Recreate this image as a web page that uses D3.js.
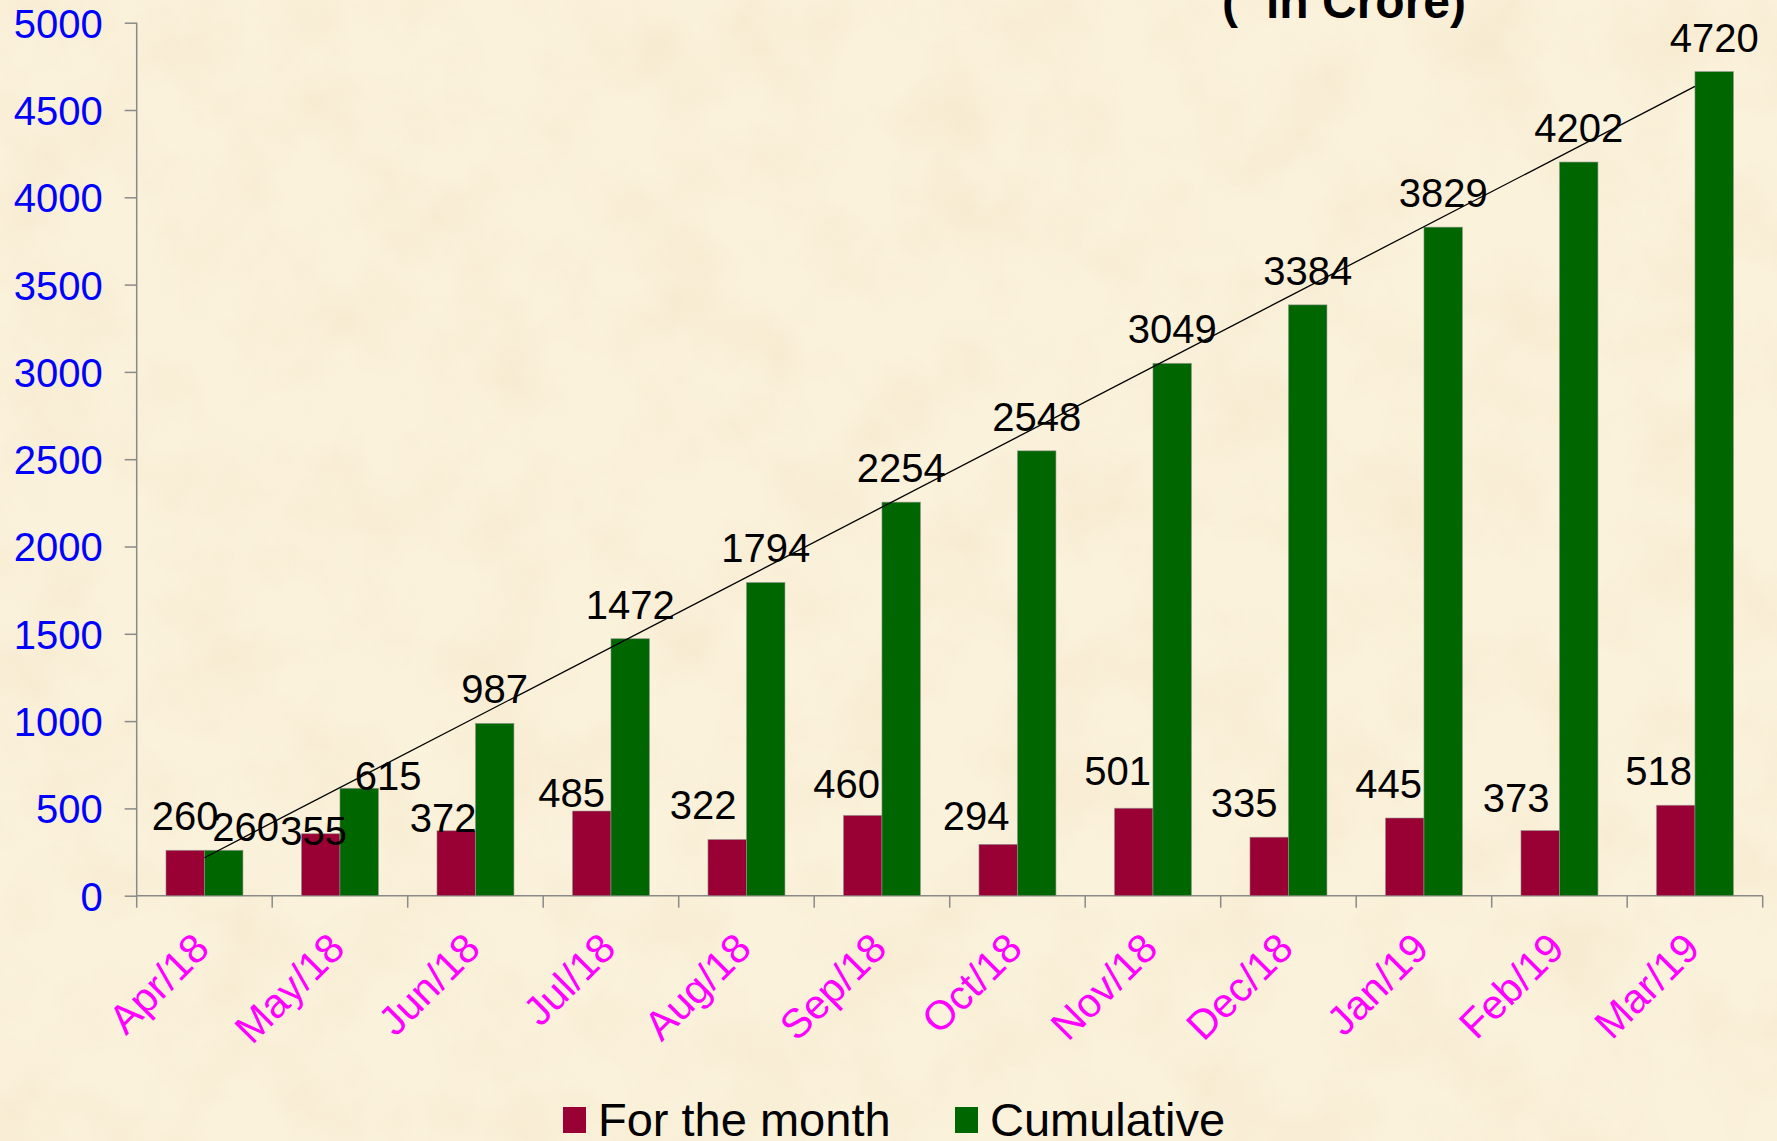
<!DOCTYPE html>
<html lang="en">
<head>
  <meta charset="UTF-8">
  <title>Monthly and cumulative (in Crore)</title>
  <script src="https://d3js.org/d3.v7.min.js"></script>
  <style>
    body { margin: 0; background: #FAF0D8; }
    svg { display: block; font-family: "Liberation Sans", Arial, sans-serif; }
  </style>
</head>
<body>
<div id="chart"></div>
<script>
  // Data
  const months = ["Apr/18", "May/18", "Jun/18", "Jul/18", "Aug/18", "Sep/18",
                  "Oct/18", "Nov/18", "Dec/18", "Jan/19", "Feb/19", "Mar/19"];
  const forTheMonth = [260, 355, 372, 485, 322, 460, 294, 501, 335, 445, 373, 518];
  const cumulative = [260, 615, 987, 1472, 1794, 2254, 2548, 3049, 3384, 3829, 4202, 4720];
  const seriesNames = ["For the month", "Cumulative"];
  const yTicks = [0, 500, 1000, 1500, 2000, 2500, 3000, 3500, 4000, 4500, 5000];

  // hand nudges of the value labels (dx, dy), as placed in the original
  const monthLabelNudge = [[0, 0], [-7, 31], [-13, 21], [-20, 16], [-24, 0], [-16, 3],
                           [-22, 6], [-16, -3], [-25, 0], [-16, 0], [-24, 1], [-17, 0]];
  const cumLabelNudge = [[22, 11], [29, 22], [0, 0], [0, 0], [0, 0], [0, 0],
                         [0, 0], [0, 0], [0, 0], [0, 0], [0, 0], [0, 0]];

  // Dimensions
  const width = 1777, height = 1141;
  const plot = { left: 136.7, right: 1762.7, top: 22.7, bottom: 895.7 };
  const colors = { "For the month": "#990033", "Cumulative": "#006600" };
  const axisColor = "#8a8a8a";

  const svg = d3.select("#chart").append("svg")
    .attr("width", width)
    .attr("height", height);

  // paper-like background
  const defs = svg.append("defs");
  const f = defs.append("filter").attr("id", "paper")
    .attr("x", 0).attr("y", 0).attr("width", "100%").attr("height", "100%");
  f.append("feTurbulence").attr("type", "fractalNoise")
    .attr("baseFrequency", "0.011").attr("numOctaves", 4).attr("seed", 7);
  f.append("feColorMatrix").attr("type", "matrix")
    .attr("values", "0 0 0 0 0.86  0 0 0 0 0.74  0 0 0 0 0.50  1.6 0 0 0 -0.62");

  svg.append("rect").attr("width", width).attr("height", height).attr("fill", "#FBF2DC");
  svg.append("rect").attr("width", width).attr("height", height)
    .attr("filter", "url(#paper)").attr("opacity", 0.45);

  // Scales
  const x = d3.scaleBand().domain(months).range([plot.left, plot.right]).padding(0);
  const xInner = d3.scaleBand().domain(seriesNames).range([0, x.bandwidth()])
    .paddingInner(0).paddingOuter(0.76);
  const y = d3.scaleLinear().domain([0, 5000]).range([plot.bottom, plot.top]);

  // Y axis
  const yAxis = svg.append("g")
    .attr("transform", `translate(${plot.left},0)`)
    .call(d3.axisLeft(y).tickValues(yTicks).tickSize(12).tickPadding(22).tickFormat(d3.format("d")));
  yAxis.select(".domain").attr("stroke", axisColor).attr("stroke-width", 1.5)
    .attr("d", `M0,${plot.top}V${plot.bottom}`);
  yAxis.selectAll(".tick line").attr("stroke", axisColor).attr("stroke-width", 1.5);
  yAxis.selectAll(".tick text")
    .attr("fill", "#0000FF")
    .style("font-size", "40px")
    .attr("dy", "0.36em");

  // X axis (ticks on the category boundaries)
  const xAxis = svg.append("g");
  xAxis.append("line")
    .attr("x1", plot.left).attr("x2", plot.right)
    .attr("y1", plot.bottom).attr("y2", plot.bottom)
    .attr("stroke", axisColor).attr("stroke-width", 1.5);
  const boundaries = months.map(m => x(m)).concat([x(months[months.length - 1]) + x.bandwidth()]);
  xAxis.selectAll(".xtick").data(boundaries).join("line")
    .attr("class", "xtick")
    .attr("x1", d => d).attr("x2", d => d)
    .attr("y1", plot.bottom).attr("y2", plot.bottom + 12)
    .attr("stroke", axisColor).attr("stroke-width", 1.5);
  xAxis.selectAll(".xlabel").data(months).join("text")
    .attr("class", "xlabel")
    .attr("text-anchor", "end")
    .attr("transform", d => `translate(${x(d) + x.bandwidth() / 2 + 7},${plot.bottom + 55}) rotate(-45)`)
    .attr("fill", "#FF00FF")
    .style("font-size", "41px")
    .text(d => d);

  // Bars
  const rows = months.map((m, i) => ({ month: m, i, values: [
    { key: "For the month", value: forTheMonth[i], nudge: monthLabelNudge[i] },
    { key: "Cumulative", value: cumulative[i], nudge: cumLabelNudge[i] }
  ]}));

  const groups = svg.selectAll(".group").data(rows).join("g")
    .attr("class", "group")
    .attr("transform", d => `translate(${x(d.month)},0)`);

  groups.selectAll("rect").data(d => d.values).join("rect")
    .attr("x", d => xInner(d.key))
    .attr("width", xInner.bandwidth())
    .attr("y", d => y(d.value))
    .attr("height", d => y(0) - y(d.value))
    .attr("fill", d => colors[d.key])
    .attr("stroke", "rgba(150,150,150,0.7)")
    .attr("stroke-width", 0.8);

  // Linear trend line of the cumulative series (least squares)
  const idx = cumulative.map((_, i) => i);
  const mx = d3.mean(idx), my = d3.mean(cumulative);
  const slope = d3.sum(idx, i => (i - mx) * (cumulative[i] - my)) / d3.sum(idx, i => (i - mx) ** 2);
  const intercept = my - slope * mx;
  const trend = [0, months.length - 1].map(i => [x(months[i]) + x.bandwidth() / 2, y(intercept + slope * i)]);
  svg.append("path")
    .attr("d", d3.line()(trend))
    .attr("stroke", "#000")
    .attr("stroke-width", 1.3)
    .attr("fill", "none");

  // Value labels
  groups.selectAll(".value").data(d => d.values).join("text")
    .attr("class", "value")
    .attr("text-anchor", "middle")
    .attr("x", d => xInner(d.key) + xInner.bandwidth() / 2 + d.nudge[0])
    .attr("y", d => y(d.value) - 20 + d.nudge[1])
    .attr("fill", "#000")
    .style("font-size", "40px")
    .text(d => d.value);

  // Title (partly above the picture)
  const title = svg.append("text")
    .attr("y", 18)
    .attr("fill", "#000")
    .style("font-size", "48px")
    .style("font-weight", "bold");
  title.append("tspan").attr("x", 1222).text("(");
  title.append("tspan").attr("x", 1266).text("in Crore)");

  // Legend
  const legend = svg.append("g").attr("transform", "translate(0,1136)");
  const legendX = [563, 955];
  seriesNames.forEach((name, i) => {
    legend.append("rect")
      .attr("x", legendX[i]).attr("y", -29)
      .attr("width", 23).attr("height", 26)
      .attr("fill", colors[name]);
    legend.append("text")
      .attr("x", legendX[i] + 35)
      .attr("y", 0)
      .attr("fill", "#000")
      .style("font-size", "47px")
      .text(name);
  });
</script>
</body>
</html>
